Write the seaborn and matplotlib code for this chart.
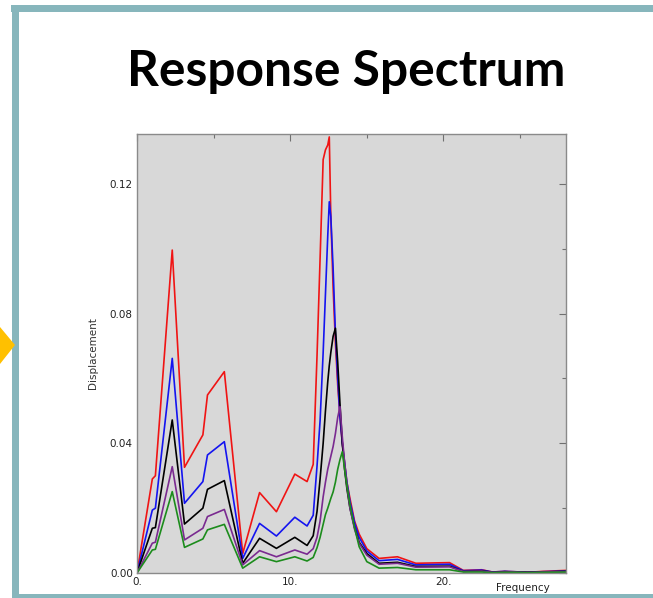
import numpy as np
import pandas as pd
import matplotlib
matplotlib.use("Agg")
import matplotlib.pyplot as plt
from matplotlib.patches import Rectangle, Polygon
from matplotlib.ticker import FixedLocator
import seaborn as sns

# ---------------- data ----------------
freq = [0, 1.0, 1.2, 2.3, 3.1, 4.3, 4.6, 5.7, 6.9, 8.0, 9.1, 10.3, 11.1, 11.5,
        11.75, 11.95, 12.15, 12.3, 12.45, 12.55, 12.65, 12.8, 12.95, 13.1, 13.25,
        13.4, 13.55, 13.7, 13.9, 14.2, 14.5, 15.0, 15.8, 17.0, 18.2, 20.4, 21.3,
        22.5, 23.2, 24.0, 24.6, 25.5, 26.5, 28.0]

disp_red = [0, 0.029, 0.030, 0.0996, 0.0326, 0.0426, 0.0549, 0.0621, 0.006, 0.0248,
            0.0189, 0.0305, 0.0282, 0.0335, 0.067, 0.097, 0.1275, 0.1305, 0.132,
            0.1345, 0.110, 0.088, 0.071, 0.058, 0.048, 0.040, 0.034, 0.028, 0.023,
            0.016, 0.012, 0.0075, 0.0045, 0.005, 0.003, 0.0032, 0.0008, 0.0010,
            0.0003, 0.0005, 0.0004, 0.0002, 0.0005, 0.0008]
disp_blue = [0, 0.0194, 0.020, 0.0662, 0.0215, 0.0282, 0.0364, 0.0405, 0.0045, 0.0153,
             0.0114, 0.0172, 0.0145, 0.0178, 0.033, 0.047, 0.068, 0.086, 0.104,
             0.1145, 0.110, 0.094, 0.074, 0.060, 0.048, 0.040, 0.034, 0.028, 0.022,
             0.0155, 0.011, 0.0068, 0.0038, 0.0042, 0.0025, 0.0027, 0.0007, 0.0009,
             0.0003, 0.0005, 0.0004, 0.0002, 0.0004, 0.0006]
disp_black = [0, 0.0138, 0.014, 0.0472, 0.0151, 0.020, 0.0258, 0.0285, 0.003, 0.0107,
              0.0076, 0.011, 0.0085, 0.0115, 0.019, 0.029, 0.040, 0.050, 0.059,
              0.064, 0.068, 0.073, 0.0755, 0.065, 0.052, 0.040, 0.032, 0.026, 0.020,
              0.014, 0.0095, 0.006, 0.003, 0.0033, 0.002, 0.0021, 0.0005, 0.0007,
              0.0002, 0.0004, 0.0003, 0.0002, 0.0003, 0.0005]
disp_purple = [0, 0.0092, 0.0095, 0.0328, 0.0102, 0.0138, 0.0174, 0.0196, 0.0025,
               0.0069, 0.005, 0.0071, 0.0058, 0.0075, 0.011, 0.016, 0.0235, 0.028,
               0.032, 0.034, 0.036, 0.039, 0.043, 0.048, 0.0513, 0.042, 0.034, 0.027,
               0.020, 0.0135, 0.0092, 0.0055, 0.0027, 0.003, 0.0018, 0.0019, 0.0005,
               0.0006, 0.0002, 0.0003, 0.0003, 0.0001, 0.0003, 0.0004]
disp_green = [0, 0.0071, 0.0073, 0.0251, 0.0079, 0.0105, 0.0133, 0.015, 0.0015,
              0.005, 0.0035, 0.005, 0.0037, 0.0048, 0.0078, 0.011, 0.015, 0.018,
              0.020, 0.0215, 0.023, 0.025, 0.028, 0.032, 0.035, 0.0374, 0.032, 0.027,
              0.021, 0.014, 0.0081, 0.0035, 0.0015, 0.0017, 0.001, 0.001, 0.0003,
              0.0003, 0.0001, 0.0002, 0.0002, 0.0001, 0.0002, 0.0003]

series_names = ["red", "blue", "black", "purple", "green"]
series_values = [disp_red, disp_blue, disp_black, disp_purple, disp_green]
series_colors = ["#f01414", "#1414f0", "#000000", "#7a2a90", "#1c8c1c"]

yticks_major = [0.00, 0.04, 0.08, 0.12]
ytick_labels = ["0.00", "0.04", "0.08", "0.12"]
xticks_major = [0, 10, 20]
xtick_labels = ["0.", "10.", "20."]

# ---------------- build table ----------------
df = pd.concat(
    [pd.DataFrame({"Frequency": freq, "Displacement": v, "series": n})
     for n, v in zip(series_names, series_values)],
    ignore_index=True)

# ---------------- figure ----------------
W, H = 653, 598
sns.set_style("white", {"axes.facecolor": "#d8d8d8"})
plt.rcParams["font.family"] = ["DejaVu Sans"]
fig = plt.figure(figsize=(W / 100, H / 100), dpi=100)

def fx(px):
    return px / W

def fy(py):
    return 1 - py / H

# slide frame
teal = "#87b6bc"
fig.add_artist(Rectangle((fx(11), fy(12)), fx(653 - 11), 7 / H, transform=fig.transFigure,
                         color=teal, lw=0, zorder=5))
fig.add_artist(Rectangle((fx(12), fy(598)), 7 / W, (598 - 5) / H, transform=fig.transFigure,
                         color=teal, lw=0, zorder=5))
fig.add_artist(Rectangle((fx(12), fy(598)), fx(653 - 12), 4 / H, transform=fig.transFigure,
                         color=teal, lw=0, zorder=5))
fig.add_artist(Polygon([(fx(0), fy(327)), (fx(15), fy(345)), (fx(0), fy(364))],
                       closed=True, transform=fig.transFigure, color="#ffc000", lw=0, zorder=6))

fig.text(fx(346), fy(72), "Response Spectrum", ha="center", va="center",
         fontsize=35.8, fontweight="bold", family=["Lato", "DejaVu Sans"], color="black")

ax = fig.add_axes([fx(137), fy(573), fx(566 - 137), (573 - 134) / H])
sns.lineplot(data=df, x="Frequency", y="Displacement", hue="series",
             palette=dict(zip(series_names, series_colors)), hue_order=series_names,
             ax=ax, legend=False, linewidth=1.2, sort=False, estimator=None)

ax.set_xlim(0, 28)
ax.set_ylim(0, 0.1354)
ax.set_xticks(xticks_major)
ax.set_xticklabels(xtick_labels)
ax.set_yticks(yticks_major)
ax.set_yticklabels(ytick_labels)
ax.xaxis.set_minor_locator(FixedLocator([5, 15, 25]))
ax.yaxis.set_minor_locator(FixedLocator([0.02, 0.06, 0.10]))
ax.tick_params(which="both", direction="in", top=True, right=True, colors="#707070",
               labelcolor="#222222", labelsize=7.5, pad=3)
ax.tick_params(which="major", length=5, width=0.8)
ax.tick_params(which="minor", length=3, width=0.8)
for s in ax.spines.values():
    s.set_color("#8a8a8a")
    s.set_linewidth(1.0)

ax.set_ylabel("Displacement", fontsize=7.5, color="#333333")
ax.yaxis.set_label_coords((98 - 137) / 429, 0.5)
ax.set_xlabel("Frequency", fontsize=7.5, color="#222222")
ax.xaxis.set_label_coords((523 - 137) / 429, -(583 - 573) / 439)

fig.savefig("out.png", dpi=100)
